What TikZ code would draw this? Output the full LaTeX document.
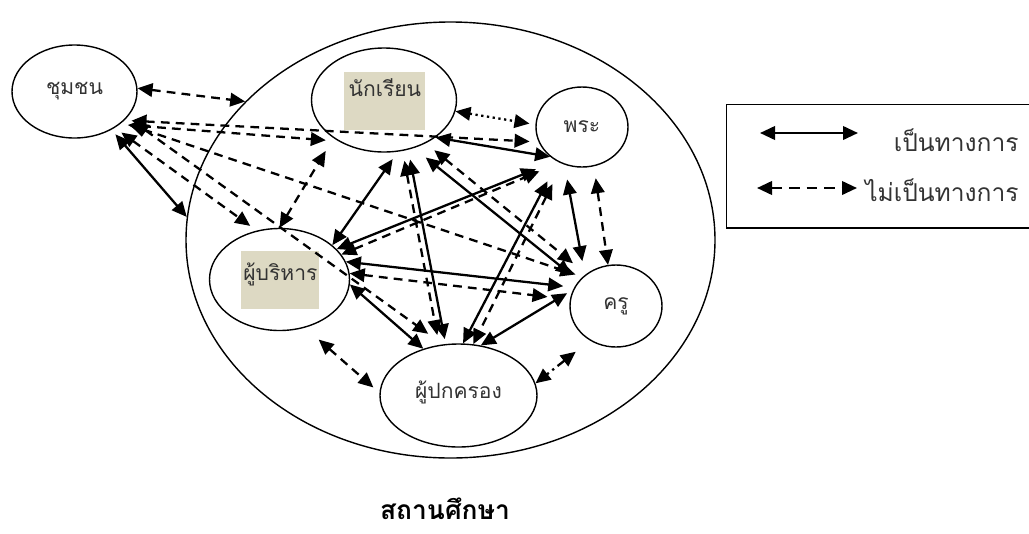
\documentclass[tikz,border=0pt]{standalone}
\usepackage{fontspec}
\setmainfont{Loma}[Script=Thai]
\usepackage{xcolor}
\usetikzlibrary{arrows.meta, shapes.geometric}

\definecolor{tagfill}{RGB}{221,217,195}

\begin{document}
\begin{tikzpicture}[
    x=0.2mm, y=-0.2mm,
    party/.style={
        ellipse, draw, line width=0.8pt, inner sep=0pt,
        font=\fontsize{12}{14}\selectfont, text=black!80
    },
    tagbox/.style={
        rectangle, fill=tagfill, inner sep=0pt, anchor=north west,
        font=\fontsize{12}{14}\selectfont, text=black!80
    },
    formal/.style={{Triangle[length=3mm, width=2.7mm]}-{Triangle[length=3mm, width=2.7mm]}, line width=1.3pt},
    informal/.style={formal, dash pattern=on 5pt off 3.5pt},
    dotlink/.style={formal, dash pattern=on 1.3pt off 2pt},
    dashdotlink/.style={formal, dash pattern=on 5pt off 2.5pt on 1.3pt off 2.5pt},
    legtext/.style={anchor=east, inner sep=0pt, font=\fontsize{14}{16}\selectfont, text=black!80}
]
\useasboundingbox (0,0) rectangle (1029,533);

% School and the people around it
\node[party, minimum width=105.8mm, minimum height=87.2mm] (school) at (450.5,240) {};
\node[party, minimum width=25mm, minimum height=18.6mm] (comm) at (74.5,91.5) {ชุมชน};
\node[party, minimum width=29mm, minimum height=20.8mm] (stud) at (384,100) {};
\node[party, minimum width=18.4mm, minimum height=16mm] (monk) at (582,127) {พระ};
\node[party, minimum width=28mm, minimum height=20.4mm] (admin) at (279.5,279.5) {};
\node[party, minimum width=18.4mm, minimum height=16.4mm] (teach) at (616,306) {ครู};
\node[party, minimum width=31.4mm, minimum height=20.6mm, text depth=2.2mm] (parent) at (458.5,395.5) {ผู้ปกครอง};

% Shaded name tags
\node[tagbox, minimum width=16.2mm, text height=4.8mm, text depth=6.8mm] (studtag) at (344,72) {นักเรียน};
\node[tagbox, minimum width=15.6mm, text height=5.8mm, text depth=5.8mm] (admintag) at (241,251) {ผู้บริหาร};

% Community links
\draw[informal] (comm.3) -- (school.146);
\draw[formal, shorten <=1.2mm] (comm.-46) -- (school.175);
\draw[informal, shorten <=1.4mm, shorten >=1.8mm] (comm.-30) -- (monk.199);
\draw[informal, shorten <=1.6mm, shorten >=2.5mm] (comm.-36) -- (stud.222);
\draw[informal, shorten <=1.6mm, shorten >=1.5mm] (comm.-33) -- (teach.139);
\draw[informal, shorten <=1.6mm, shorten >=3.6mm] (comm.-26) -- (parent.107);
\draw[informal, shorten <=1.6mm, shorten >=1.6mm] (comm.-42) -- (admin.115);

% Student links
\draw[dotlink, shorten >=1.2mm] (stud.-9) -- (monk.177);
\draw[formal] (stud.-36) -- (monk.223);
\draw[informal, shorten >=3mm] (admin.90) -- (stud.217);
\draw[formal, shorten <=1.8mm] (stud.-75) -- (admin.33);
\draw[formal, shorten <=3mm, shorten >=2mm] (stud.-58) -- (teach.146);
\draw[informal, shorten <=2.2mm, shorten >=3.4mm] (stud.-46) -- (teach.133);
\draw[formal, shorten <=2mm, shorten >=1mm] (stud.-64) -- (parent.104);
\draw[informal, shorten <=2mm, shorten >=2mm] (stud.-70) -- (parent.111);

% Administrator links
\draw[formal, shorten >=4.4mm] (admin.28) -- (monk.233);
\draw[informal, shorten >=4.4mm] (admin.22) -- (monk.238);
\draw[formal, shorten >=2.2mm] (admin.15) -- (teach.156);
\draw[informal, shorten >=4.5mm] (admin.5) -- (teach.172);
\draw[formal] (admin.-4) -- (parent.127);
\draw[informal, shorten <=3.6mm, shorten >=1.6mm] (admin.-62) -- (parent.178);

% Monk links
\draw[formal, shorten <=3mm, shorten >=2.8mm] (monk.245) -- (teach.135);
\draw[informal, shorten <=2.4mm] (monk.287) -- (teach.101);
\draw[formal, shorten <=4.4mm] (monk.235) -- (parent.85);
\draw[informal, shorten <=4.5mm] (monk.242) -- (parent.74);

% Teacher links
\draw[formal, shorten <=1.4mm] (teach.159) -- (parent.66);
\draw[dashdotlink, shorten <=3.6mm] (teach.233) -- (parent.9);

% Legend
\node[draw, line width=0.9pt, anchor=north west, inner sep=0pt,
      minimum width=64mm, minimum height=24.7mm] (legend) at (725.5,103.5) {};
\coordinate (formalA) at (760,133);
\coordinate (formalB) at (858,133);
\coordinate (informalA) at (757,188);
\coordinate (informalB) at (857,188);
\draw[formal] (formalA) -- (formalB);
\draw[informal, dash pattern=on 6pt off 4pt] (informalA) -- (informalB);
\node[legtext] (formaltxt) at (1019,140) {เป็นทางการ};
\node[legtext] (informaltxt) at (1019,190) {ไม่เป็นทางการ};

% Caption
\node[inner sep=0pt, font=\fontsize{15}{17}\selectfont\bfseries] (caption) at (445,509) {สถานศึกษา};

\end{tikzpicture}
\end{document}
